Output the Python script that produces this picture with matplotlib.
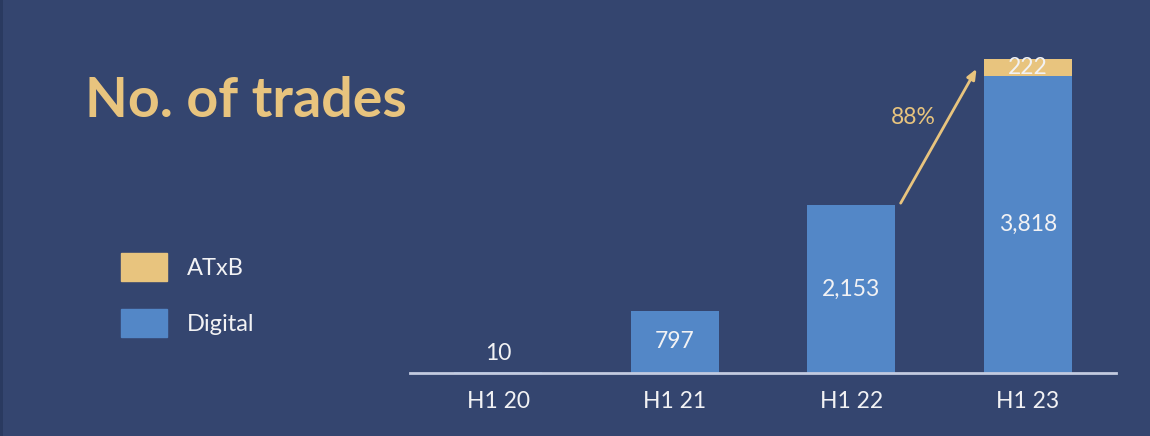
import matplotlib.pyplot as plt
from matplotlib.patches import Patch, Rectangle

plt.rcParams["font.family"] = ["Lato", "DejaVu Sans"]

periods = ["H1 20", "H1 21", "H1 22", "H1 23"]
digital = [10, 797, 2153, 3818]
atxb = [0, 0, 0, 222]

BG = "#34456f"
GOLD = "#e8c47e"
BLUE = "#5387c7"
TEXT = "#f2f2f4"

fig = plt.figure(figsize=(11.5, 4.36), dpi=100, facecolor=BG)
# darker strip down the left edge
fig.patches.append(Rectangle((0, 0), 3 / 1150, 1, transform=fig.transFigure,
                             facecolor="#2a3a60", edgecolor="none"))

ax = fig.add_axes([410 / 1150, 63 / 436, 706 / 1150, 333 / 436])
ax.set_facecolor(BG)
x = range(len(periods))
ax.bar(x, digital, width=0.5, color=BLUE, label="Digital")
ax.bar(x, atxb, width=0.5, bottom=digital, color=GOLD, label="ATxB")
ax.set_xlim(-0.5, 3.5)
ax.set_ylim(0, 4280)

for i, (d, a) in enumerate(zip(digital, atxb)):
    if d < 300:
        ax.text(i, d + 240, f"{d:,}", ha="center", va="center", color=TEXT, fontsize=16.5)
    else:
        ax.text(i, d / 2, f"{d:,}", ha="center", va="center", color=TEXT, fontsize=16.5)
    if a:
        ax.text(i, d + a / 2, f"{a:,}", ha="center", va="center", color=TEXT, fontsize=16.5)

# growth arrow between the last two periods
prev_total = digital[2] + atxb[2]
last_total = digital[3] + atxb[3]
growth = last_total / prev_total - 1
ax.annotate("", xy=(2.71, last_total - 130), xytext=(2.28, prev_total + 30),
            arrowprops=dict(arrowstyle="-|>,head_length=0.6,head_width=0.25",
                            color=GOLD, lw=2, shrinkA=0, shrinkB=0))
ax.text(2.35, 3280, f"{growth:.0%}", ha="center", va="center", color=GOLD, fontsize=16.5)

for s in ["top", "right", "left"]:
    ax.spines[s].set_visible(False)
ax.spines["bottom"].set_color("#c3cbe0")
ax.spines["bottom"].set_linewidth(2)
ax.set_yticks([])
ax.set_xticks(list(x))
ax.set_xticklabels(periods, color=TEXT, fontsize=16.5)
ax.tick_params(axis="x", length=0, pad=13)

fig.text(85 / 1150, 1 - 101 / 436, "No. of trades", color=GOLD, fontsize=40,
         fontweight="bold", ha="left", va="center")

handles = [Patch(color=GOLD, label="ATxB"), Patch(color=BLUE, label="Digital")]
leg = fig.legend(handles=handles, loc="upper left",
                 bbox_to_anchor=(121 / 1150, 1 - 253 / 436), frameon=False,
                 fontsize=17, handlelength=1.95, handleheight=1.45,
                 labelspacing=1.2, handletextpad=0.85, borderpad=0, borderaxespad=0)
for t in leg.get_texts():
    t.set_color(TEXT)

fig.savefig("out.png", dpi=100, facecolor=BG)
